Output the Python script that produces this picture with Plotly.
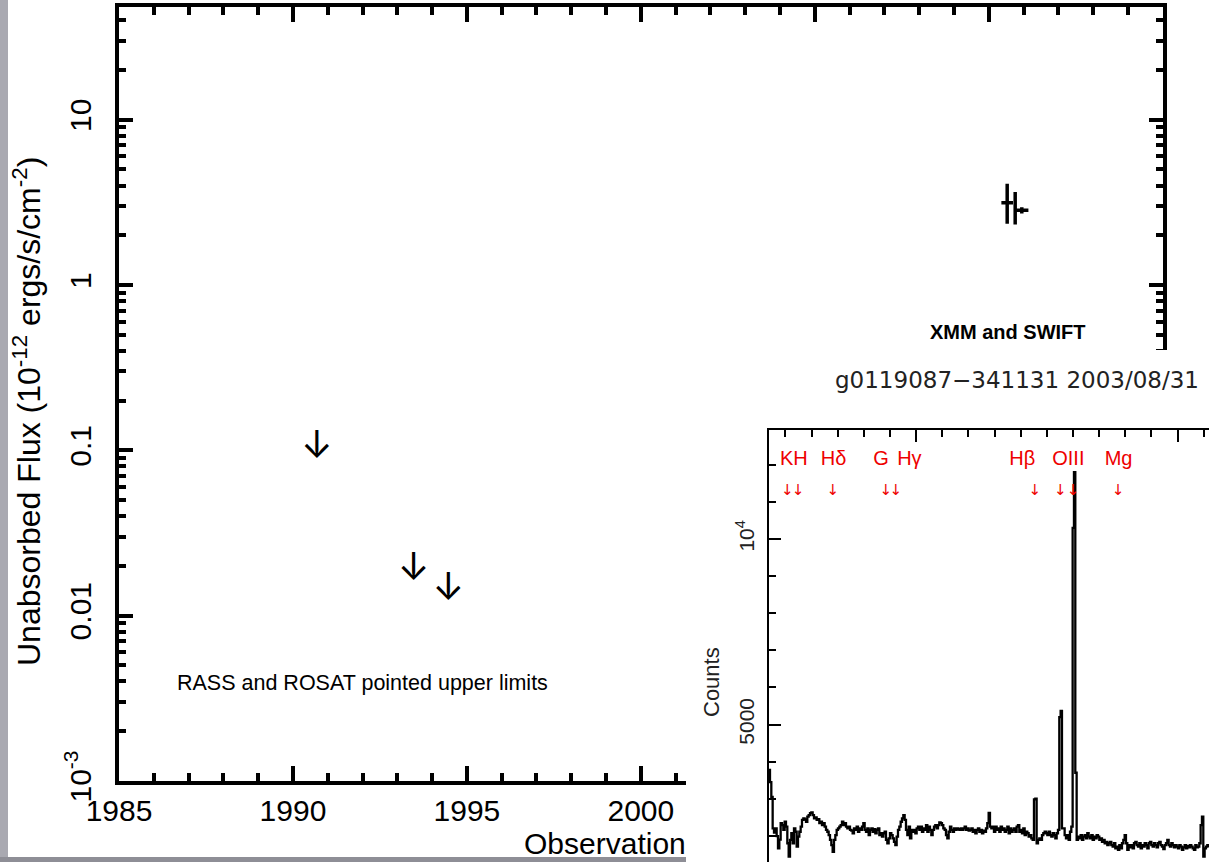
import plotly.graph_objects as go

W, H = 1209, 862

# ---------------- main panel data ----------------
year_range = [1985, 2015]
flux_log_range = [-3, 1.68]

ul_years = [1990.69, 1993.47, 1994.47]          # RASS / ROSAT upper limits
ul_flux = [0.103, 0.0187, 0.0142]

det_years = [2010.53, 2010.76, 2010.95]         # XMM and SWIFT
det_flux = [3.15, 2.87, 2.83]
det_flux_hi = [4.10, 3.66, 2.95]
det_flux_lo = [2.35, 2.32, 2.71]
det_year_err = [0.167, 0.0, 0.19]

y_major_vals = [0.001, 0.01, 0.1, 1, 10]
y_major_text = ["10<sup>-3</sup>", "0.01", "0.1", "1", "10"]
y_minor_vals = [k * 10.0 ** e for e in range(-3, 2) for k in range(2, 10)]

# ---------------- inset spectrum data ----------------
wave_start = 3935.6      # Angstrom, first pixel
wave_step = 5.1          # Angstrom per sample
counts = [
    3780, 3450, 3050, 2200, 2090, 2200, 1990, 1660, 1900, 2340,
    2290, 2160, 2380, 2250, 1800, 1440, 1890, 2070, 1800, 2200,
    2110, 1710, 1980, 2110, 2250, 2430, 2470, 2440, 2380, 2520,
    2560, 2610, 2630, 2560, 2470, 2500, 2430, 2450, 2340, 2380,
    2290, 2340, 2250, 2160, 2110, 2020, 1890, 1750, 1570, 1890,
    2020, 2160, 2200, 2250, 2290, 2380, 2290, 2340, 2250, 2200,
    2250, 2160, 2140, 2070, 2200, 2160, 2250, 2110, 2200, 2160,
    2250, 2340, 2160, 2110, 2200, 2020, 2160, 2200, 2110, 2180,
    2070, 2160, 2200, 2020, 2070, 1980, 2070, 2110, 1890, 1800,
    1930, 2070, 2020, 1930, 1840, 1750, 1980, 2160, 2250, 2380,
    2470, 2560, 2430, 2160, 2020, 2250, 1930, 2160, 2110,
    2160, 2070, 2200, 2250, 2160, 2250, 2110, 2200, 2160, 2290,
    2110, 2250, 2160, 2020, 2160, 2250, 2290, 2200, 2290, 2360,
    2340, 2290, 2200, 2160, 2020, 1930, 2110, 2250, 2160, 2110,
    2200, 2160, 2200, 2180, 2160, 2200, 2160, 2200, 2250, 2160,
    2200, 2140, 2160, 2200, 2110, 2160, 2070, 2160, 2200, 2110,
    2160, 2070, 2140, 2110, 2200, 2340, 2620, 2250, 2200, 2250,
    2110, 2250, 2160, 2200, 2110, 2250, 2160, 2200, 2110, 2160,
    2250, 2070, 2200, 2110, 2160, 2200, 2110, 2250, 2290, 2110,
    2160, 2070, 2200, 2020, 2110, 2070, 1980, 2020, 1930, 1890,
    2980, 3000, 1800, 1890, 1930, 1890, 2020, 2070, 2110, 2070,
    2020, 2110, 2020, 1980, 2070, 2020, 1930, 2070, 2160,
    5200, 5370, 2200, 2200, 2020, 1930, 2020, 1890, 2110, 2250,
    10300, 11800, 3700, 1890, 1980, 1930, 2020, 1890, 1980, 2020,
    1930, 2070, 1980, 1930, 2020, 1890, 1980, 1930, 2020, 1980,
    1890, 1930, 1840, 1890, 1800, 1840, 1750, 1800, 1840, 1750,
    1710, 1800, 1660, 1710, 1620, 1750, 1660, 1800, 1890, 2020,
    1800, 1620, 1750, 1690, 1750, 1660, 1800, 1840, 1750, 1710,
    1800, 1660, 1750, 1710, 1800, 1750, 1660, 1800, 1840, 1750,
    1710, 1800, 1750, 1690, 1800, 1840, 1750, 1710, 1640, 1750,
    1800, 1890, 1750, 1710, 1800, 1750, 1690, 1750, 1710, 1660,
    1750, 1710, 1620, 1690, 1750, 1660, 1730, 1690, 1750, 1710,
    1660, 1620, 1750, 1690, 1710, 1800, 2290, 2520, 1440, 1660,
    1710, 1750, 1690,
]
wave = [wave_start + wave_step * i for i in range(len(counts))]

spec_x_range = [3935, 5620]
spec_y_range = [1295, 12950]
spec_x_major = [4500, 5500]
spec_y_major = [5000, 10000]
spec_y_major_text = ["5000", "10<sup>4</sup>"]

line_names = ["KH", "Hδ", "G", "Hγ", "Hβ", "OIII", "Mg"]
line_label_wave = [4032, 4184, 4365, 4474, 4906, 5082, 5274]
line_label_counts = 12130
line_arrow_wave = [4007, 4048, 4181, 4384, 4422, 4954, 5051, 5100, 5272]
line_arrow_counts = 11294

spec_title = "g0119087\u2212341131 2003/08/31"


def px(v):
    return v / W


def py(v):
    return 1 - v / H


FONT = "Liberation Sans, Arial, sans-serif"
ARROW_FONT = "DejaVu Sans"
fig = go.Figure()

# ---- main panel traces ----
fig.add_trace(go.Scatter(
    x=ul_years, y=ul_flux, mode="text", text=["\u2193"] * len(ul_years),
    textposition="middle center",
    textfont=dict(family="Inter, DejaVu Sans", size=38, color="black",
                  weight=400),
    xaxis="x", yaxis="y", showlegend=False, hoverinfo="skip"))

fig.add_trace(go.Scatter(
    x=det_years, y=det_flux, mode="markers",
    marker=dict(size=2, color="black"),
    error_y=dict(type="data", symmetric=False,
                 array=[h - v for h, v in zip(det_flux_hi, det_flux)],
                 arrayminus=[v - l for l, v in zip(det_flux_lo, det_flux)],
                 thickness=3.5, width=0, color="black"),
    error_x=dict(type="data", array=det_year_err, thickness=3.5, width=0,
                 color="black"),
    xaxis="x", yaxis="y", showlegend=False))

# ---- white panel of the inset (subplot drawn above the main one) ----
fig.add_trace(go.Scatter(x=[None], y=[None], xaxis="x2", yaxis="y2",
                         showlegend=False, hoverinfo="skip"))

# ---- spectrum ----
fig.add_trace(go.Scatter(
    x=wave, y=counts, mode="lines",
    line=dict(color="black", width=2.3, shape="hv"),
    xaxis="x3", yaxis="y3", showlegend=False))
fig.add_trace(go.Scatter(
    x=line_label_wave, y=[line_label_counts] * len(line_names), mode="text",
    text=line_names, textposition="middle center",
    textfont=dict(family=FONT, size=20, color="#ee0000"),
    xaxis="x3", yaxis="y3", showlegend=False, cliponaxis=False))
fig.add_trace(go.Scatter(
    x=line_arrow_wave, y=[line_arrow_counts] * len(line_arrow_wave),
    mode="text", text=["\u2193"] * len(line_arrow_wave),
    textposition="middle center",
    textfont=dict(family=ARROW_FONT, size=15, color="#ee0000"),
    xaxis="x3", yaxis="y3", showlegend=False, cliponaxis=False))

L, R, T, B = 119, 1162.7, 7.3, 781

fig.update_layout(
    width=W, height=H, autosize=False,
    margin=dict(l=0, r=0, t=0, b=0, autoexpand=False),
    paper_bgcolor="white", plot_bgcolor="white",
    font=dict(family=FONT, color="black"),
    showlegend=False,
    xaxis=dict(
        domain=[px(L), px(R)], range=year_range, anchor="y", automargin=False,
        showline=True, linewidth=4, linecolor="black", mirror="ticks",
        ticks="inside", ticklen=15, tickwidth=4, tickcolor="black",
        tick0=1985, dtick=5, tickfont=dict(size=30),
        minor=dict(ticks="inside", ticklen=8, tickwidth=3.5, dtick=1,
                   tick0=1985, tickcolor="black", showgrid=False),
        showgrid=False, zeroline=False),
    yaxis=dict(
        domain=[py(B), py(T)], type="log", range=flux_log_range, anchor="x",
        automargin=False,
        showline=True, linewidth=4, linecolor="black", mirror="ticks",
        ticks="inside", ticklen=14, tickwidth=4, tickcolor="black",
        tickmode="array", tickvals=y_major_vals, ticktext=y_major_text,
        tickangle=-90, tickfont=dict(size=30), ticklabelstandoff=12,
        minor=dict(ticks="inside", ticklen=7, tickwidth=3.5,
                   tickmode="array", tickvals=y_minor_vals,
                   tickcolor="black", showgrid=False),
        showgrid=False, zeroline=False),
    xaxis2=dict(domain=[px(686), 1], range=[0, 1], anchor="y2",
                visible=False, automargin=False),
    yaxis2=dict(domain=[0, py(350)], range=[0, 1], anchor="x2",
                visible=False, automargin=False),
    xaxis3=dict(
        domain=[px(768.5), 1], range=spec_x_range, anchor="y3", side="top",
        automargin=False,
        showline=True, linewidth=2, linecolor="black",
        ticks="inside", ticklen=12, tickwidth=2, tickcolor="black",
        tickmode="array", tickvals=spec_x_major, showticklabels=False,
        minor=dict(ticks="inside", ticklen=7, tickwidth=2, dtick=100,
                   tick0=4000, tickcolor="black", showgrid=False),
        showgrid=False, zeroline=False),
    yaxis3=dict(
        domain=[0, py(429.5)], range=spec_y_range, anchor="x3",
        automargin=False,
        showline=True, linewidth=2, linecolor="black",
        ticks="inside", ticklen=12, tickwidth=2, tickcolor="black",
        tickmode="array", tickvals=spec_y_major, ticktext=spec_y_major_text,
        tickangle=-90, tickfont=dict(size=21, color="#222"),
        ticklabelstandoff=4,
        minor=dict(ticks="inside", ticklen=7, tickwidth=2, dtick=1000,
                   tick0=0, tickcolor="black", showgrid=False),
        showgrid=False, zeroline=False),
    shapes=[
        dict(type="rect", xref="paper", yref="paper", x0=0, x1=px(8),
             y0=0, y1=1, fillcolor="#a9a9b1", line=dict(width=0),
             layer="below"),
        dict(type="rect", xref="paper", yref="paper", x0=0, x1=px(686),
             y0=0, y1=1 - 857 / H, fillcolor="#8e8e96", line=dict(width=0),
             layer="below"),
        dict(type="rect", xref="x2", yref="y2", x0=-0.1, x1=1.1,
             y0=-0.1, y1=1.1, fillcolor="white", line=dict(width=0),
             layer="below"),
    ],
    annotations=[
        dict(text="Unabsorbed Flux (10<sup>-12</sup> ergs/s/cm<sup>-2</sup>)",
             x=px(27), y=py(412), xref="paper", yref="paper",
             textangle=-90, showarrow=False, xanchor="center",
             yanchor="middle", font=dict(size=32)),
        dict(text="RASS and ROSAT pointed upper limits",
             x=px(175), y=py(683), xref="paper", yref="paper",
             showarrow=False, xanchor="left", yanchor="middle",
             font=dict(size=21.5)),
        dict(text="<b>XMM and SWIFT</b>",
             x=px(1088), y=py(332), xref="paper", yref="paper",
             showarrow=False, xanchor="right", yanchor="middle",
             font=dict(size=20)),
        dict(text="Observation",
             x=px(521.7), y=py(843), xref="paper", yref="paper",
             showarrow=False, xanchor="left", yanchor="middle",
             font=dict(size=30)),
        dict(text=spec_title,
             x=px(1016.5), y=py(380), xref="paper", yref="paper",
             showarrow=False, xanchor="center", yanchor="middle",
             font=dict(family="DejaVu Sans", size=23, color="#222")),
        dict(text="Counts",
             x=px(711), y=py(682), xref="paper", yref="paper",
             textangle=-90, showarrow=False, xanchor="center",
             yanchor="middle", font=dict(size=22, color="#222")),
    ],
)

fig.write_html("out.html")
